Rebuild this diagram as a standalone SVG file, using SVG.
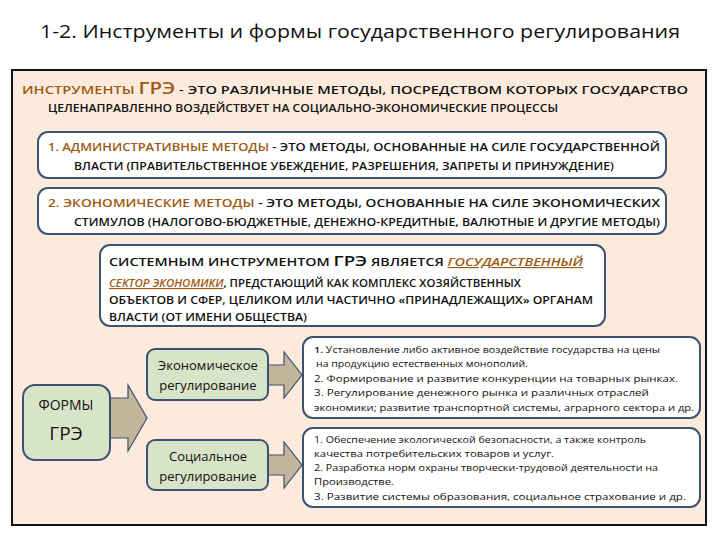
<svg xmlns="http://www.w3.org/2000/svg" width="720" height="540" viewBox="0 0 720 540">
<style>
text{font-family:"Open Sans","Liberation Sans",sans-serif;fill:#111;}
.b{font-weight:600;}
.o{fill:#9c5a12;}
.box{fill:#fff;stroke:#3d5270;stroke-width:2;}
.gn{fill:#d8e4c8;stroke:#3d5270;stroke-width:2;}
.ar{fill:#c2b59a;stroke:#3d5270;stroke-width:1.2;}
</style>
<rect width="720" height="540" fill="#fff"/>
<text x="360" y="38" text-anchor="middle" font-size="19" textLength="640" lengthAdjust="spacingAndGlyphs">1-2. Инструменты  и формы государственного регулирования</text>
<rect x="12" y="70" width="694" height="455" fill="#fcebdc" stroke="#111" stroke-width="2"/>
<g id="intro" class="b" font-size="11.5">
<text x="22" y="94" textLength="666" lengthAdjust="spacingAndGlyphs"><tspan class="o">ИНСТРУМЕНТЫ </tspan><tspan class="o" font-size="16">ГРЭ</tspan> - ЭТО РАЗЛИЧНЫЕ МЕТОДЫ, ПОСРЕДСТВОМ КОТОРЫХ ГОСУДАРСТВО</text>
<text x="48" y="112" textLength="510" lengthAdjust="spacingAndGlyphs">ЦЕЛЕНАПРАВЛЕННО ВОЗДЕЙСТВУЕТ НА СОЦИАЛЬНО-ЭКОНОМИЧЕСКИЕ ПРОЦЕССЫ</text>
</g>
<g id="admin">
<rect class="box" x="38" y="132" width="628" height="46" rx="10"/>
<text class="b" x="48" y="151" font-size="11.5" textLength="612" lengthAdjust="spacingAndGlyphs"><tspan class="o">1. АДМИНИСТРАТИВНЫЕ МЕТОДЫ</tspan> - ЭТО МЕТОДЫ, ОСНОВАННЫЕ НА СИЛЕ ГОСУДАРСТВЕННОЙ</text>
<text class="b" x="74" y="170" font-size="11.5" textLength="540" lengthAdjust="spacingAndGlyphs">ВЛАСТИ  (ПРАВИТЕЛЬСТВЕННОЕ УБЕЖДЕНИЕ, РАЗРЕШЕНИЯ, ЗАПРЕТЫ И ПРИНУЖДЕНИЕ)</text>
</g>
<g id="econ-methods">
<rect class="box" x="38" y="188" width="628" height="46" rx="10"/>
<text class="b" x="48" y="207" font-size="11.5" textLength="612" lengthAdjust="spacingAndGlyphs"><tspan class="o">2. ЭКОНОМИЧЕСКИЕ МЕТОДЫ</tspan> - ЭТО МЕТОДЫ, ОСНОВАННЫЕ НА СИЛЕ ЭКОНОМИЧЕСКИХ</text>
<text class="b" x="74" y="226" font-size="11.5" textLength="586" lengthAdjust="spacingAndGlyphs">СТИМУЛОВ  (НАЛОГОВО-БЮДЖЕТНЫЕ, ДЕНЕЖНО-КРЕДИТНЫЕ, ВАЛЮТНЫЕ И ДРУГИЕ МЕТОДЫ)</text>
</g>
<g id="system">
<rect class="box" x="100" y="245" width="505" height="81" rx="10"/>
<text class="b" x="109" y="266" font-size="11.5" textLength="474" lengthAdjust="spacingAndGlyphs">СИСТЕМНЫМ ИНСТРУМЕНТОМ <tspan font-size="15">ГРЭ</tspan> ЯВЛЯЕТСЯ <tspan class="o" font-style="italic" text-decoration="underline">ГОСУДАРСТВЕННЫЙ</tspan></text>
<text class="b" x="109" y="287" font-size="11" textLength="412" lengthAdjust="spacingAndGlyphs"><tspan class="o" font-style="italic" text-decoration="underline">СЕКТОР ЭКОНОМИКИ</tspan>, ПРЕДСТАЮЩИЙ КАК КОМПЛЕКС ХОЗЯЙСТВЕННЫХ</text>
<text class="b" x="109" y="304" font-size="10.5" textLength="484" lengthAdjust="spacingAndGlyphs">ОБЪЕКТОВ И СФЕР, ЦЕЛИКОМ ИЛИ ЧАСТИЧНО «ПРИНАДЛЕЖАЩИХ» ОРГАНАМ</text>
<text class="b" x="109" y="321" font-size="10.5" textLength="198" lengthAdjust="spacingAndGlyphs">ВЛАСТИ (ОТ ИМЕНИ ОБЩЕСТВА)</text>
</g>
<g id="connectors">
<polygon class="ar" points="110,398 128,398 128,385 147,418 128,451 128,438 110,438"/>
<polygon class="ar" points="268,365 284,365 284,352 302,375 284,398 284,385 268,385"/>
<polygon class="ar" points="268,455 284,455 284,442 302,465 284,488 284,475 268,475"/>
</g>
<g id="formy">
<rect class="gn" x="23" y="385" width="87" height="75" rx="12"/>
<text x="66" y="410" text-anchor="middle" font-size="14">ФОРМЫ</text>
<text x="66" y="440" text-anchor="middle" font-size="19">ГРЭ</text>
</g>
<g id="econ-reg">
<rect class="gn" x="147" y="349" width="121" height="51" rx="8"/>
<text x="208" y="370" text-anchor="middle" font-size="13">Экономическое</text>
<text x="208" y="390" text-anchor="middle" font-size="13">регулирование</text>
</g>
<g id="soc-reg">
<rect class="gn" x="147" y="440" width="121" height="50" rx="8"/>
<text x="208" y="461" text-anchor="middle" font-size="13">Социальное</text>
<text x="208" y="481" text-anchor="middle" font-size="13">регулирование</text>
</g>
<g id="econ-list" font-size="9.5">
<rect class="box" x="303" y="337" width="397" height="81" rx="10"/>
<text x="314" y="353" textLength="346" lengthAdjust="spacingAndGlyphs"><tspan class="b">1.</tspan> Установление либо активное воздействие государства на цены</text>
<text x="316" y="367" textLength="212" lengthAdjust="spacingAndGlyphs">на продукцию естественных монополий.</text>
<text x="314" y="382" textLength="364" lengthAdjust="spacingAndGlyphs">2. Формирование и развитие конкуренции на товарных рынках.</text>
<text x="314" y="396" textLength="335" lengthAdjust="spacingAndGlyphs">3. Регулирование денежного рынка и различных отраслей</text>
<text x="314" y="411" textLength="380" lengthAdjust="spacingAndGlyphs">экономики; развитие транспортной системы, аграрного сектора и др.</text>
</g>
<g id="soc-list" font-size="9.5">
<rect class="box" x="303" y="428" width="397" height="79" rx="10"/>
<text x="314" y="443" textLength="332" lengthAdjust="spacingAndGlyphs">1. Обеспечение экологической безопасности, а также контроль</text>
<text x="314" y="457" textLength="240" lengthAdjust="spacingAndGlyphs">качества потребительских товаров и услуг.</text>
<text x="314" y="471" textLength="344" lengthAdjust="spacingAndGlyphs">2. Разработка норм охраны творчески-трудовой деятельности на</text>
<text x="314" y="485" textLength="80" lengthAdjust="spacingAndGlyphs">Производстве.</text>
<text x="314" y="500" textLength="372" lengthAdjust="spacingAndGlyphs">3. Развитие системы образования, социальное страхование и др.</text>
</g>
</svg>
